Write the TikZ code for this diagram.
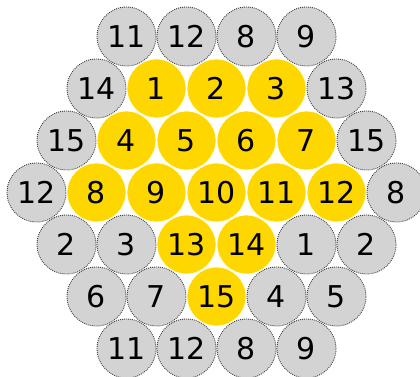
\documentclass[tikz,border=0pt]{standalone}
\usepackage{fontspec}
\setmainfont{DejaVu Sans}
\definecolor{goldc}{RGB}{255,215,0}
\definecolor{grayc}{RGB}{211,211,211}
\definecolor{dotc}{RGB}{60,60,60}
\begin{document}
\begin{tikzpicture}[x=1pt,y=1pt,
  ball/.style={circle,inner sep=0pt,minimum size=59pt,font=\fontsize{30}{30}\selectfont},
  yb/.style={ball,fill=goldc,draw=white,line width=0.8pt},
  gb/.style={ball,fill=grayc,draw=dotc,line width=0.9pt,dash pattern=on 0.9pt off 1.1pt}]
\useasboundingbox (0,0) rectangle (420,376);
\clip (0,0) rectangle (420,376);
% row 0
\foreach \x/\l/\n in {126.5/11/a1,186.5/12/a2,246.5/8/a3,306.5/9/a4}
  \node[gb] (\n) at (\x,376-36.5) {\l};
% row 1
\node[gb] (b1) at (96.5,376-88.5) {14};
\foreach \x/\l/\n in {156.5/1/b2,216.5/2/b3,276.5/3/b4}
  \node[yb] (\n) at (\x,376-88.5) {\l};
\node[gb] (b5) at (336.5,376-88.5) {13};
% row 2
\node[gb] (c1) at (66.5,376-140.5) {15};
\foreach \x/\l/\n in {126.5/4/c2,186.5/5/c3,246.5/6/c4,306.5/7/c5}
  \node[yb] (\n) at (\x,376-140.5) {\l};
\node[gb] (c6) at (366.5,376-140.5) {15};
% row 3
\node[gb] (d1) at (36.5,376-192.5) {12};
\foreach \x/\l/\n in {96.5/8/d2,156.5/9/d3,216.5/10/d4,276.5/11/d5,336.5/12/d6}
  \node[yb] (\n) at (\x,376-192.5) {\l};
\node[gb] (d7) at (396.5,376-192.5) {8};
% row 4
\node[gb] (e1) at (66.5,376-244.5) {2};
\node[gb] (e2) at (126.5,376-244.5) {3};
\node[yb] (e3) at (186.5,376-244.5) {13};
\node[yb] (e4) at (246.5,376-244.5) {14};
\node[gb] (e5) at (306.5,376-244.5) {1};
\node[gb] (e6) at (366.5,376-244.5) {2};
% row 5
\node[gb] (f1) at (96.5,376-296.5) {6};
\node[gb] (f2) at (156.5,376-296.5) {7};
\node[yb] (f3) at (216.5,376-296.5) {15};
\node[gb] (f4) at (276.5,376-296.5) {4};
\node[gb] (f5) at (336.5,376-296.5) {5};
% row 6
\foreach \x/\l/\n in {126.5/11/g1,186.5/12/g2,246.5/8/g3,306.5/9/g4}
  \node[gb] (\n) at (\x,376-348.5) {\l};
\end{tikzpicture}
\end{document}
